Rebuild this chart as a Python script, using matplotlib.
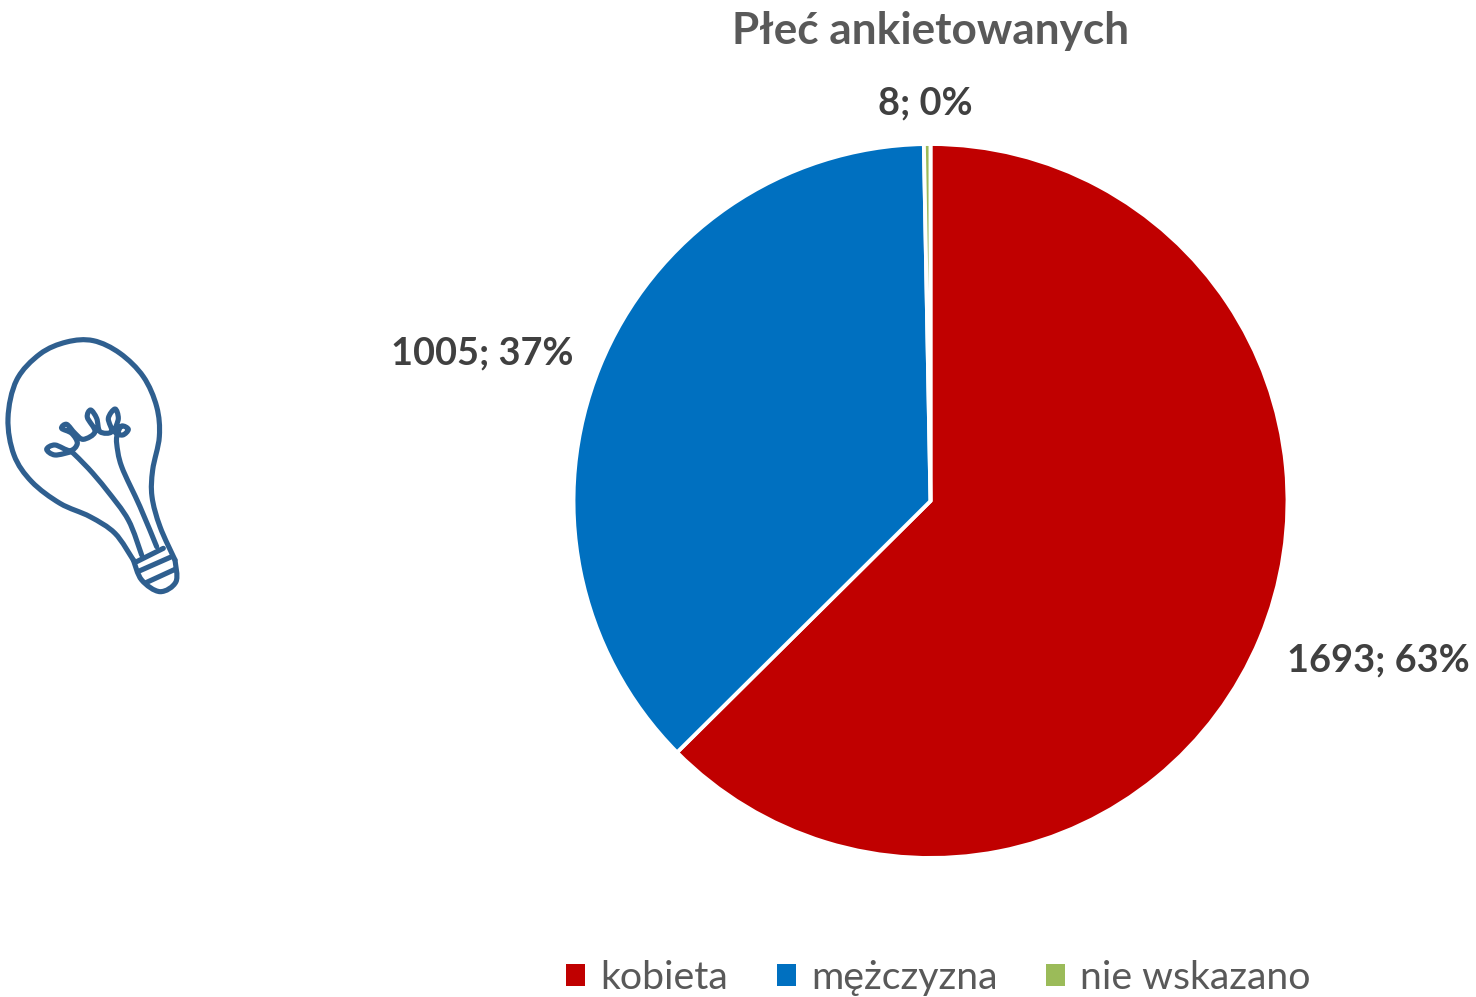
import numpy as np
import matplotlib
matplotlib.use("Agg")
import matplotlib.pyplot as plt
from matplotlib.path import Path
from matplotlib.patches import PathPatch, Patch

plt.rcParams['font.family'] = ['Lato', 'DejaVu Sans']

categories = ['kobieta', 'mężczyzna', 'nie wskazano']
values = [1693, 1005, 8]
colors = ['#C00000', '#0070C0', '#9BBB59']
title = 'Płeć ankietowanych'

W, H = 1476, 997
fig = plt.figure(figsize=(W / 100, H / 100), dpi=100, facecolor='white')

# pie axes
cx, cy, r = 930.5, 501, 357
ax = fig.add_axes([(cx - r) / W, 1 - (cy + r) / H, 2 * r / W, 2 * r / H])
ax.pie(values, colors=colors, startangle=90, counterclock=False, radius=1,
       wedgeprops=dict(edgecolor='white', linewidth=2.8))
ax.set_xlim(-1, 1)
ax.set_ylim(-1, 1)
ax.set_aspect('equal')

# overlay in pixel coordinates
ov = fig.add_axes([0, 0, 1, 1], facecolor='none')
ov.set_xlim(0, W)
ov.set_ylim(H, 0)
ov.axis('off')

ov.text(931, 31, title, ha='center', va='center', fontsize=31.8, fontweight='bold', color='#595959')

total = sum(values)
label_pos = [(1378, 660), (482, 353), (925, 103)]
for v, (x, y) in zip(values, label_pos):
    ov.text(x, y, f'{v}; {round(100 * v / total)}%', ha='center', va='center',
            fontsize=27.3, fontweight='bold', color='#404040')

handles = [Patch(facecolor=c, edgecolor='none', label=n) for c, n in zip(colors, categories)]
fig.legend(handles=handles, loc='center', bbox_to_anchor=(938.5 / W, 1 - 978 / H), ncol=3, frameon=False,
           fontsize=28.3, labelcolor='#595959', handlelength=0.48, handleheight=0.48,
           handletextpad=0.38, columnspacing=1.25, borderpad=0)


def smooth(pts):
    pts = np.asarray(pts, float)
    p = np.vstack([pts[0], pts, pts[-1]])
    verts = [tuple(pts[0])]
    codes = [Path.MOVETO]
    for i in range(1, len(p) - 2):
        verts += [tuple(p[i] + (p[i + 1] - p[i - 1]) / 6),
                  tuple(p[i + 1] - (p[i + 2] - p[i]) / 6),
                  tuple(p[i + 1])]
        codes += [Path.CURVE4] * 3
    return Path(verts, codes)


def bulb(pts, lw=3.7):
    z = np.asarray(pts, float) / 3 + np.array([0, 330])
    ov.add_patch(PathPatch(smooth(z), fill=False, edgecolor='#2F5F8F', lw=lw, capstyle='round', joinstyle='round'))


# light bulb icon (traced in zoomed-crop coordinates)
bulb([(400, 690), (345, 610), (270, 560), (180, 520), (95, 455), (42, 375), (24, 265), (50, 150),
      (120, 72), (200, 36), (280, 32), (360, 70), (430, 140), (470, 230), (478, 320), (458, 420),
      (456, 500), (480, 590), (525, 690)])
bulb([(400, 690), (425, 750), (480, 785), (528, 755), (525, 690)])
bulb([(410, 695), (490, 655)])
bulb([(420, 722), (515, 680)])
bulb([(438, 758), (525, 718)])
bulb([(425, 675), (385, 570), (320, 480), (265, 415), (215, 365)])
bulb([(470, 650), (420, 530), (365, 410), (350, 340), (352, 310)])
bulb([(215, 365), (165, 375), (140, 358), (165, 345), (210, 362), (232, 340), (215, 310), (185, 295),
      (200, 283), (225, 310), (250, 328), (285, 305), (262, 262), (272, 240), (290, 265), (300, 305),
      (335, 305), (325, 265), (345, 237), (355, 265), (345, 305), (368, 315), (385, 298), (365, 288), (352, 310)])

fig.savefig('out.png', dpi=100)
